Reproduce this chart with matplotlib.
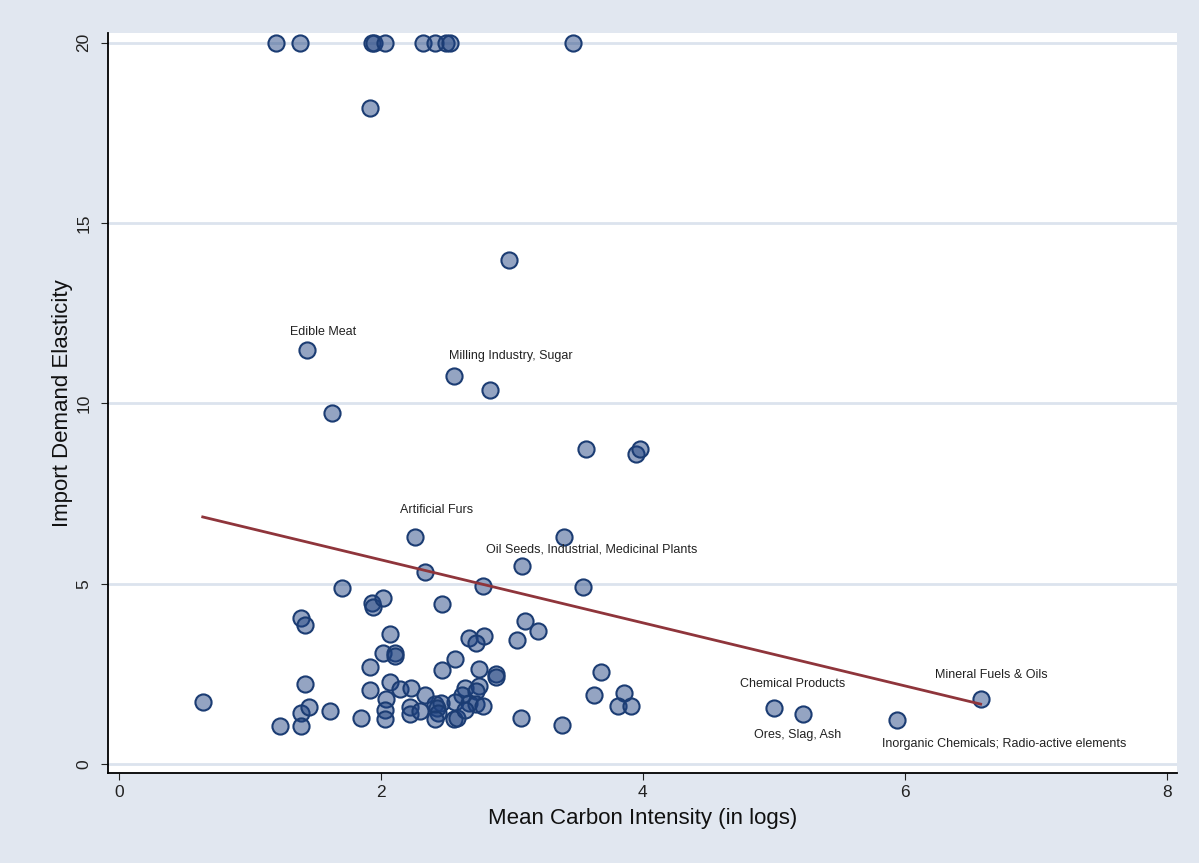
import matplotlib.pyplot as plt

plt.rcParams['font.family'] = ['Liberation Sans', 'DejaVu Sans']

# Mean carbon intensity (logs) and import demand elasticity per HS chapter
carbon = [1.20, 1.38, 1.93, 1.95, 2.03, 2.32, 2.41, 2.50, 2.53, 3.47,
          1.92, 2.98, 1.44, 2.56, 2.83, 1.63, 3.57, 3.95, 3.98,
          2.26, 3.40, 3.08, 2.34, 1.70, 2.78, 3.54,
          1.93, 1.94, 2.02, 2.47, 1.39, 1.42, 2.07, 2.67, 2.79, 2.73,
          3.10, 3.20, 3.04, 2.02, 2.11, 2.11, 1.92, 2.57, 2.47, 2.75,
          2.88, 2.88, 3.68, 1.42, 2.07, 2.15, 2.23, 1.92, 0.64, 2.34,
          2.64, 2.75, 2.62, 2.73, 2.57, 2.67, 2.73, 2.78, 2.04,
          1.39, 1.45, 1.61, 1.23, 1.39, 1.85, 2.03, 2.03, 2.22, 2.22,
          2.30, 2.41, 2.46, 2.43, 2.44, 2.41, 2.56, 2.58, 2.64,
          3.63, 3.86, 3.81, 3.91, 3.07, 3.38,
          5.00, 5.22, 5.94, 6.58]
elasticity = [20, 20, 20, 20, 20, 20, 20, 20, 20, 20,
              18.2, 13.97, 11.48, 10.76, 10.37, 9.73, 8.73, 8.59, 8.73,
              6.29, 6.29, 5.49, 5.32, 4.88, 4.93, 4.91,
              4.45, 4.36, 4.60, 4.44, 4.06, 3.86, 3.60, 3.48, 3.55, 3.35,
              3.97, 3.70, 3.45, 3.09, 3.09, 3.00, 2.69, 2.91, 2.61, 2.63,
              2.49, 2.40, 2.56, 2.23, 2.28, 2.09, 2.12, 2.05, 1.71, 1.91,
              2.10, 2.17, 1.91, 2.02, 1.73, 1.70, 1.66, 1.61, 1.79,
              1.42, 1.57, 1.48, 1.06, 1.06, 1.28, 1.50, 1.24, 1.59, 1.39,
              1.48, 1.66, 1.68, 1.54, 1.40, 1.24, 1.24, 1.27, 1.50,
              1.90, 1.98, 1.61, 1.61, 1.28, 1.08,
              1.55, 1.38, 1.22, 1.79]

# Labelled sectors: (name, x, y, offset in pixels)
labels = ['Edible Meat', 'Milling Industry, Sugar', 'Artificial Furs',
          'Oil Seeds, Industrial, Medicinal Plants', 'Chemical Products',
          'Ores, Slag, Ash', 'Inorganic Chemicals; Radio-active elements',
          'Mineral Fuels & Oils']
label_x = [1.44, 2.56, 2.26, 3.08, 5.00, 5.22, 5.94, 6.58]
label_y = [11.48, 10.76, 6.29, 5.49, 1.55, 1.38, 1.22, 1.79]
label_off = [(16, 18), (57, 20), (22, 27), (69, 16), (19, 24), (-5, -21), (107, -24), (11, 24)]

# Fitted line end points
fit_x = [0.64, 6.58]
fit_y = [6.85, 1.66]

fig = plt.figure(figsize=(11.99, 8.63), dpi=100, facecolor='#E1E7F0')
ax = fig.add_axes([0.090, 0.1043, 0.8917, 0.8575])
ax.set_facecolor('white')

for yv in [0, 5, 10, 15, 20]:
    ax.axhline(yv, color='#DCE3EE', linewidth=2, zorder=0)

ax.scatter(carbon, elasticity, s=135, facecolor=(0.12, 0.26, 0.50, 0.48),
           edgecolor='#1B3C73', linewidth=1.5, zorder=3)
ax.plot(fit_x, fit_y, color='#8F353B', linewidth=2, zorder=4)

for name, lx, ly, off in zip(labels, label_x, label_y, label_off):
    ax.annotate(name, (lx, ly), xytext=off, textcoords='offset pixels',
                ha='center', va='center', fontsize=9, color='#222222', zorder=5)

ax.set_xlim(-0.084, 8.08)
ax.set_ylim(-0.25, 20.27)
ax.set_xticks([0, 2, 4, 6, 8])
ax.set_yticks([0, 5, 10, 15, 20])
ax.tick_params(axis='both', labelsize=12.5, length=5, colors='#222222')
ax.tick_params(axis='y', pad=7)
for lab in ax.get_yticklabels():
    lab.set_rotation(90)
    lab.set_va('center')

for side in ['top', 'right']:
    ax.spines[side].set_visible(False)
ax.spines['left'].set_linewidth(1.3)
ax.spines['bottom'].set_linewidth(1.3)

ax.set_xlabel('Mean Carbon Intensity (in logs)', fontsize=16, color='#111111', labelpad=6)
ax.set_ylabel('Import Demand Elasticity', fontsize=16, color='#111111', labelpad=2)

fig.savefig('out.png', dpi=100, facecolor=fig.get_facecolor())
